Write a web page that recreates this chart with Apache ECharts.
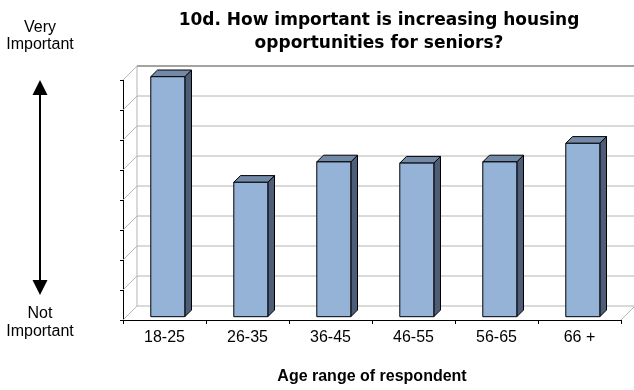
<!DOCTYPE html>
<html>
<head>
<meta charset="utf-8">
<script src="https://cdn.jsdelivr.net/npm/echarts@6/dist/echarts.min.js"></script>
<style>
  html, body { margin: 0; padding: 0; background: #ffffff; }
  #chart { width: 634px; height: 390px; }
</style>
</head>
<body>
<div id="chart"></div>
<script>
// Age groups and mean importance score (1 = not important, 5 = very important)
const categories = ['18-25', '26-35', '36-45', '46-55', '56-65', '66 +'];
const meanScores = [5.0, 3.24, 3.58, 3.56, 3.58, 3.89];

// Value axis range for the importance scale
const scaleMin = 1;
const scaleMax = 5;
const scaleStep = 0.5;

const titleText = '10d. How important is increasing housing\nopportunities for seniors?';
const xAxisTitle = 'Age range of respondent';
const topNote = 'Very\nImportant';
const bottomNote = 'Not\nImportant';

// 3-D look: depth of the back wall and of each bar, in pixels
const WALL_DEPTH = 14;
const BAR_FRONT = 3.3;
const BAR_DEPTH = 6.7;
const BAR_RATIO = 0.41;

const FACE = '#95b3d7';
const TOP = '#7389a8';
const SIDE = '#4d5d78';
const GRID = '#b4b4b4';

const chart = echarts.init(document.getElementById('chart'), null, { renderer: 'canvas' });

// Back wall, left wall and floor of the 3-D plot area
function renderWalls(params, api) {
  const cs = params.coordSys;
  const x0 = cs.x, x1 = cs.x + cs.width;
  const yBottom = cs.y + cs.height;
  const d = WALL_DEPTH;
  const children = [];
  for (let v = scaleMin; v <= scaleMax + 1e-9; v += scaleStep) {
    const y = api.coord([0, v])[1];
    const isTop = Math.abs(v - scaleMax) < 1e-9;
    children.push({
      type: 'line',
      shape: { x1: x0 + d, y1: y - d, x2: x1 + d, y2: y - d },
      style: { stroke: isTop ? '#a3a3a3' : GRID, lineWidth: isTop ? 2 : 1 }
    });
    children.push({
      type: 'line',
      shape: { x1: x0, y1: y, x2: x0 + d, y2: y - d },
      style: { stroke: GRID, lineWidth: 1 }
    });
  }
  children.push({
    type: 'line',
    shape: { x1: x0 + d, y1: cs.y - d, x2: x0 + d, y2: yBottom - d },
    style: { stroke: GRID, lineWidth: 1 }
  });
  children.push({
    type: 'line',
    shape: { x1: x1, y1: yBottom, x2: x1 + d, y2: yBottom - d },
    style: { stroke: GRID, lineWidth: 1 }
  });
  return { type: 'group', children: children };
}

// Each bar: front face, top face and right side face
function renderBar(params, api) {
  const cat = api.value(0);
  const val = api.value(1);
  const top = api.coord([cat, val]);
  const base = api.coord([cat, scaleMin]);
  const band = api.size([1, 0])[0];
  const w = band * BAR_RATIO;
  const xl = top[0] - w / 2 + BAR_FRONT;
  const xr = xl + w;
  const yt = top[1] - BAR_FRONT;
  const yb = base[1] - BAR_FRONT;
  const d = BAR_DEPTH;
  const edge = { stroke: '#000000', lineWidth: 1, lineJoin: 'round' };
  return {
    type: 'group',
    children: [
      {
        type: 'polygon',
        shape: { points: [[xr, yt], [xr + d, yt - d], [xr + d, yb - d], [xr, yb]] },
        style: Object.assign({ fill: SIDE }, edge)
      },
      {
        type: 'polygon',
        shape: { points: [[xl, yt], [xl + d, yt - d], [xr + d, yt - d], [xr, yt]] },
        style: Object.assign({ fill: TOP }, edge)
      },
      {
        type: 'rect',
        shape: { x: xl, y: yt, width: w, height: yb - yt },
        style: Object.assign({ fill: FACE }, edge)
      }
    ]
  };
}

const arrowX = 40;
const arrowTop = 80;
const arrowBottom = 295;
const headW = 7.5;
const headH = 15;

chart.setOption({
  animation: false,
  backgroundColor: '#ffffff',
  title: {
    text: titleText,
    left: 374,
    top: 4,
    textAlign: 'center',
    textStyle: {
      fontFamily: 'DejaVu Sans',
      fontWeight: 'bold',
      fontSize: 17,
      lineHeight: 23,
      color: '#000000'
    }
  },
  grid: { left: 123, right: 13, top: 80, bottom: 70, containLabel: false },
  xAxis: {
    type: 'category',
    data: categories,
    boundaryGap: true,
    name: xAxisTitle,
    nameLocation: 'middle',
    nameGap: 49,
    nameTextStyle: {
      fontFamily: 'Liberation Sans',
      fontWeight: 'bold',
      fontSize: 16,
      color: '#000000'
    },
    axisLine: { show: true, lineStyle: { color: '#000000', width: 1 } },
    axisTick: { show: true, length: 4, lineStyle: { color: '#000000' } },
    axisLabel: {
      fontFamily: 'Liberation Sans',
      fontSize: 16,
      color: '#000000',
      margin: 10
    },
    splitLine: { show: false }
  },
  yAxis: {
    type: 'value',
    min: scaleMin,
    max: scaleMax,
    interval: scaleStep,
    axisLine: { show: true, lineStyle: { color: '#000000', width: 1 } },
    axisTick: { show: true, length: 3, lineStyle: { color: '#000000' } },
    axisLabel: { show: false },
    splitLine: { show: false }
  },
  series: [
    {
      type: 'custom',
      name: 'walls',
      z: 1,
      clip: false,
      silent: true,
      renderItem: renderWalls,
      data: [[0, scaleMin]]
    },
    {
      type: 'custom',
      name: 'Mean score',
      z: 3,
      clip: false,
      renderItem: renderBar,
      encode: { x: 0, y: 1 },
      data: categories.map(function (c, i) { return [i, meanScores[i]]; })
    }
  ],
  graphic: [
    {
      type: 'text',
      style: {
        text: topNote,
        x: arrowX,
        y: 36.5,
        align: 'center',
        verticalAlign: 'middle',
        font: '16px "Liberation Sans", Arial, sans-serif',
        lineHeight: 17,
        fill: '#000000'
      }
    },
    {
      type: 'text',
      style: {
        text: bottomNote,
        x: arrowX,
        y: 323,
        align: 'center',
        verticalAlign: 'middle',
        font: '16px "Liberation Sans", Arial, sans-serif',
        lineHeight: 18,
        fill: '#000000'
      }
    },
    {
      type: 'line',
      shape: { x1: arrowX, y1: arrowTop + headH - 2, x2: arrowX, y2: arrowBottom - headH + 2 },
      style: { stroke: '#000000', lineWidth: 2 }
    },
    {
      type: 'polygon',
      shape: { points: [[arrowX, arrowTop], [arrowX - headW, arrowTop + headH], [arrowX + headW, arrowTop + headH]] },
      style: { fill: '#000000' }
    },
    {
      type: 'polygon',
      shape: { points: [[arrowX, arrowBottom], [arrowX - headW, arrowBottom - headH], [arrowX + headW, arrowBottom - headH]] },
      style: { fill: '#000000' }
    }
  ]
});
</script>
</body>
</html>
